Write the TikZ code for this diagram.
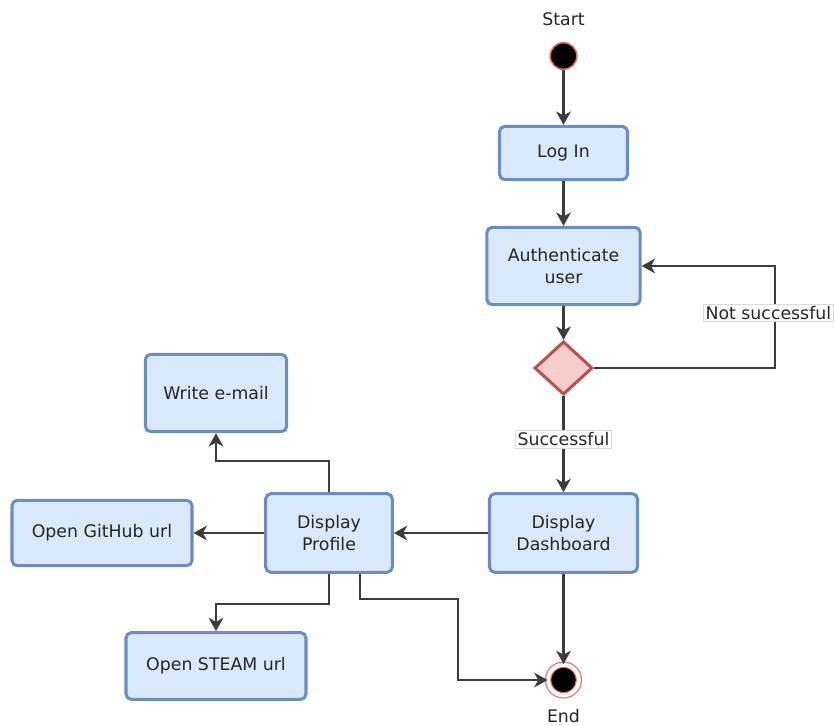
\documentclass[tikz,border=0pt]{standalone}
\usepackage{fontspec}
\setmainfont{DejaVu Sans}
\usetikzlibrary{arrows.meta,shapes.geometric}
\definecolor{boxfill}{HTML}{DAE8FC}
\definecolor{boxline}{HTML}{6C8EBF}
\definecolor{decfill}{HTML}{F8CECC}
\definecolor{decline}{HTML}{B85450}
\definecolor{flowgray}{HTML}{3C3C3C}
\definecolor{ringred}{HTML}{EA6B66}

\begin{document}
\begin{tikzpicture}[x=0.75pt, y=-0.75pt, >={Stealth[length=10pt,width=11pt,inset=3pt]},
  font=\fontsize{13}{16.5}\selectfont,
  action/.style={draw=boxline, fill=boxfill, line width=2.3pt, rounded corners=4pt,
    align=center, text=black!85, inner sep=2pt},
  choice/.style={diamond, draw=decline, fill=decfill, line width=2.3pt, inner sep=0pt},
  flow/.style={draw=flowgray, line width=1.6pt, ->},
  guard/.style={fill=white, draw=black!15, line width=0.4pt, inner sep=1.5pt, text=black!85}]
\useasboundingbox (0,0) rectangle (835,725);

% start and end
\node[text=black!85] (startlbl) at (563.5,19) {Start};
\node[circle, fill=black, draw=ringred, line width=1.2pt, minimum size=20pt] (start) at (563.5,56) {};
\node[circle, fill=black, draw=ringred, double=white, double distance=3pt, line width=0.9pt, minimum size=23pt] (end) at (563.5,680) {};
\node[text=black!85] (endlbl) at (563.5,716) {End};

% actions
\node[action, minimum width=96pt, minimum height=40pt] (login) at (563.5,153) {Log In};
\node[action, minimum width=115pt, minimum height=58pt] (auth) at (563.5,266) {Authenticate\\user};
\node[choice, minimum width=43.5pt, minimum height=40pt] (check) at (563.5,368) {};
\node[action, minimum width=111pt, minimum height=59pt] (dash) at (563.5,533) {Display\\Dashboard};
\node[action, minimum width=95pt, minimum height=59pt] (profile) at (329,533) {Display\\Profile};
\node[action, minimum width=106pt, minimum height=58pt] (email) at (216,393) {Write e-mail};
\node[action, minimum width=135pt, minimum height=49pt] (github) at (102,533) {Open GitHub url};
\node[action, minimum width=135pt, minimum height=50pt] (steam) at (216,666) {Open STEAM url};

% flows
\draw[flow] (start) -- (login);
\draw[flow] (login) -- (auth);
\draw[flow] (auth) -- (check);
\draw[flow] (check) -- node[guard, pos=0.45] {Successful} (dash);
\draw[flow] (check.east) -- ++(181,0) |- node[guard, pos=0.27, xshift=-5pt] {Not successful} (auth.east);
\draw[flow] (dash) -- (profile);
\draw[flow] (dash) -- (end);
\draw[flow] (profile) -- (github);
\draw[flow] (profile.north) -- ++(0,-31) -| (email.south);
\draw[flow] (profile.south) -- ++(0,30) -| (steam.north);
\draw[flow] (profile.south) ++(31,0) -- ++(0,25) -- ++(98,0) |- (end);
\end{tikzpicture}
\end{document}
